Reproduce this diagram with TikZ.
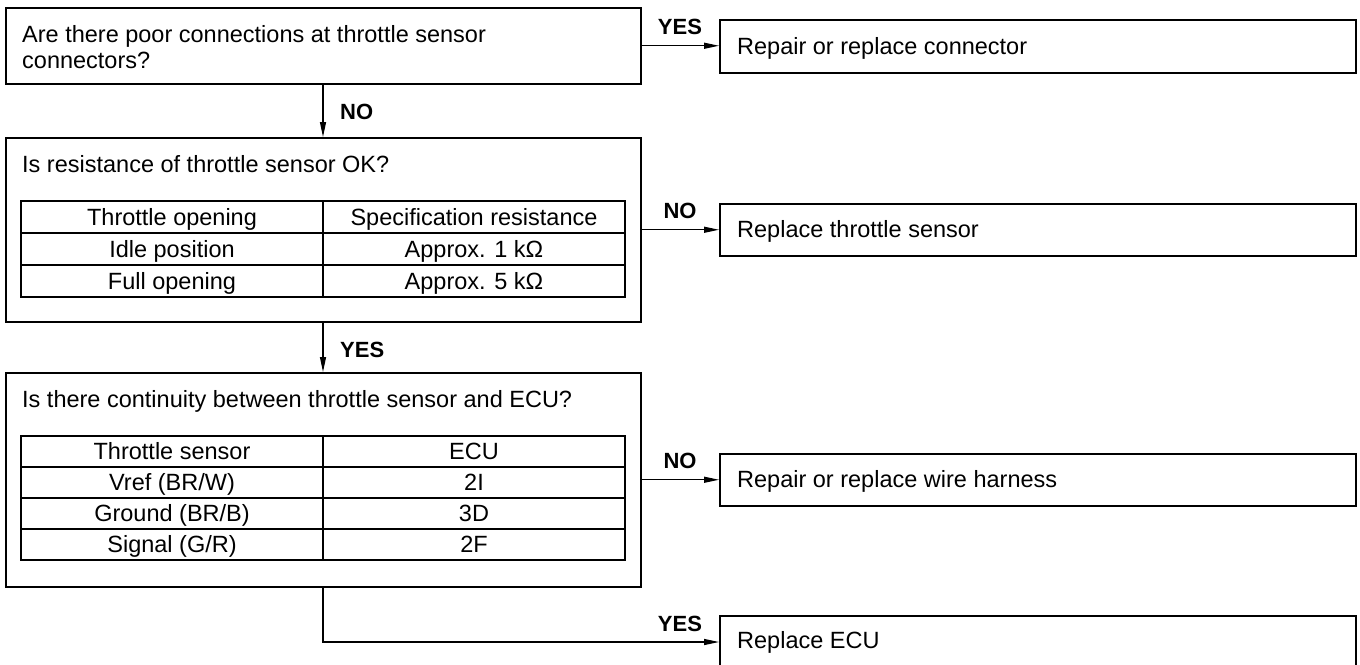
\documentclass[tikz,border=0pt]{standalone}
\usepackage{fontspec}
\setmainfont{Liberation Sans}
\usetikzlibrary{arrows.meta}
\begin{document}
\begin{tikzpicture}[x=1pt,y=-1pt,
  box/.style={draw, line width=1.5pt, inner sep=0pt, anchor=north west},
  txt/.style={font=\fontsize{23.5}{26}\selectfont, inner sep=0pt},
  cell/.style={font=\fontsize{23.5}{26}\selectfont, inner sep=0pt, anchor=base},
  lab/.style={font=\fontsize{22}{26}\selectfont\bfseries, inner sep=0pt, anchor=base},
  conn/.style={line width=1.2pt, -{Triangle[length=15pt,width=6pt]}},
  tabout/.style={line width=2.2pt},
  tabin/.style={line width=1.2pt}]

\useasboundingbox (0,0) rectangle (1360,664);
\coordinate (ax) at (323,0);

% ---- question 1
\node[box, minimum width=635pt, minimum height=76pt] (q1) at (5,7) {};
\node[txt, anchor=north west, align=left] (q1t) at (22,25)
  {Are there poor connections at throttle sensor\\connectors?};
\node[box, minimum width=636pt, minimum height=53pt] (r1) at (719,19) {};
\node[txt, anchor=base west] (r1t) at (737,54) {Repair or replace connector};
\draw[conn] (q1.east) -- (q1.east -| r1.west);
\node[lab] (l1) at (680,34) {YES};

% ---- question 2
\node[box, minimum width=635pt, minimum height=184pt] (q2) at (5,137) {};
\draw[conn] (q1.south -| ax) -- (q2.north -| ax);
\node[lab, anchor=base west] (l2) at (340,119) {NO};
\node[txt, anchor=base west] (q2t) at (22,172) {Is resistance of throttle sensor OK?};
\draw[tabin] (21,233) -- (625,233) (21,265) -- (625,265) (323,201) -- (323,297);
\draw[tabout] (21,201) rectangle (625,297);
\node[cell] (a11) at (172,225) {Throttle opening};
\node[cell] (a12) at (474,225) {Specification resistance};
\node[cell] (a21) at (172,257) {Idle position};
\node[cell] (a22) at (474,257) {Approx. 1 kΩ};
\node[cell] (a31) at (172,289) {Full opening};
\node[cell] (a32) at (474,289) {Approx. 5 kΩ};
\node[box, minimum width=636pt, minimum height=52pt] (r2) at (719,203) {};
\node[txt, anchor=base west] (r2t) at (737,237) {Replace throttle sensor};
\draw[conn] (q2.east) -- (q2.east -| r2.west);
\node[lab] (l3) at (680,218) {NO};

% ---- question 3
\node[box, minimum width=635pt, minimum height=214pt] (q3) at (5,372) {};
\draw[conn] (q2.south -| ax) -- (q3.north -| ax);
\node[lab, anchor=base west] (l4) at (340,357) {YES};
\node[txt, anchor=base west] (q3t) at (22,407) {Is there continuity between throttle sensor and ECU?};
\draw[tabin] (21,467) -- (625,467) (21,498) -- (625,498) (21,529) -- (625,529) (323,436) -- (323,560);
\draw[tabout] (21,436) rectangle (625,560);
\node[cell] (b11) at (172,459) {Throttle sensor};
\node[cell] (b12) at (474,459) {ECU};
\node[cell] (b21) at (172,490) {Vref (BR/W)};
\node[cell] (b22) at (474,490) {2I};
\node[cell] (b31) at (172,521) {Ground (BR/B)};
\node[cell] (b32) at (474,521) {3D};
\node[cell] (b41) at (172,552) {Signal (G/R)};
\node[cell] (b42) at (474,552) {2F};
\node[box, minimum width=636pt, minimum height=52pt] (r3) at (719,453) {};
\node[txt, anchor=base west] (r3t) at (737,487) {Repair or replace wire harness};
\draw[conn] (q3.east) -- (q3.east -| r3.west);
\node[lab] (l5) at (680,468) {NO};

% ---- final
\node[box, minimum width=636pt, minimum height=60pt] (r4) at (719,615) {};
\node[txt, anchor=base west] (r4t) at (737,648) {Replace ECU};
\draw[conn] (q3.south -| ax) |- (r4.west |- 0,642);
\node[lab] (l6) at (680,631) {YES};
\end{tikzpicture}
\end{document}
